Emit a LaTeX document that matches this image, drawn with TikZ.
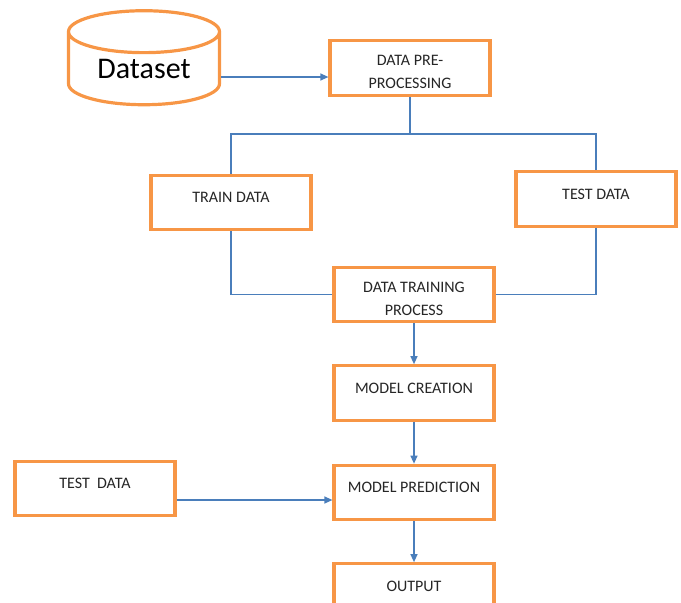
\documentclass[tikz,border=0pt]{standalone}
\usepackage{fontspec}
\setmainfont{Carlito}
\usetikzlibrary{positioning,shapes.geometric,arrows.meta}
\definecolor{boxorange}{HTML}{F79646}
\definecolor{linkblue}{HTML}{4A7EBB}
\newcommand{\twolines}[2]{\raisebox{-20.5pt}{\begin{tabular}[b]{@{}c@{}}#1\\#2\end{tabular}}}

\begin{document}
\begin{tikzpicture}[x=1pt, y=-1pt, node distance=98.5pt, on grid,
   blk/.style={draw=boxorange, line width=3.2pt, fill=white, minimum width=160pt,
      minimum height=54.5pt, inner sep=0pt, text height=0pt, text depth=0pt,
      font=\fontsize{16}{23}\selectfont, text=black!85},
   db/.style={cylinder, shape border rotate=90, aspect=0.45, draw=boxorange,
      line width=3.2pt, minimum width=151pt, minimum height=94pt, inner sep=0pt,
      font=\fontsize{30}{34}\selectfont},
   link/.style={draw=linkblue, line width=1.3pt},
   flow/.style={link, -{Triangle[length=8pt,width=7pt]}}]
   \useasboundingbox (0,0) rectangle (681,603);
   \clip (0,0) rectangle (681,603);

   % main column
   \node[blk] (training) at (414,294.5) {\twolines{DATA TRAINING}{PROCESS}};
   \node[blk, below=of training] (creation) {MODEL CREATION};
   \node[blk, below=99.5pt of creation] (prediction) {MODEL PREDICTION};
   \node[blk, below=of prediction] (output) {OUTPUT};

   \node[blk, above left=226.5pt and 4pt of training] (pre) {\twolines{DATA PRE-}{PROCESSING}};
   \node[db, below left=1pt and 266pt of pre] (data) {Dataset};

   % split data
   \node[blk, above left=92pt and 183pt of training] (train) {TRAIN DATA};
   \node[blk, above right=95.5pt and 182pt of training] (test) {TEST DATA};
   \node[blk, above left=4pt and 319pt of prediction] (testb) {TEST\ \ DATA};

   \draw[flow] ([yshift=-9pt]pre.west -| data.east) -- ([yshift=-9pt]pre.west);
   \draw[link] (pre.south) -- ++(0,37) coordinate (split);
   \draw[link] (train.north) |- (split) -| (test.north);
   \draw[link] (train.south) |- (training.west);
   \draw[link] (test.south) |- (training.east);

   \draw[flow] (training) -- (creation);
   \draw[flow] (creation) -- (prediction);
   \draw[flow] (prediction) -- (output);
   \draw[flow] ([yshift=-11.5pt]testb.east) -- ([yshift=-11.5pt]testb.east -| prediction.west);
\end{tikzpicture}
\end{document}
